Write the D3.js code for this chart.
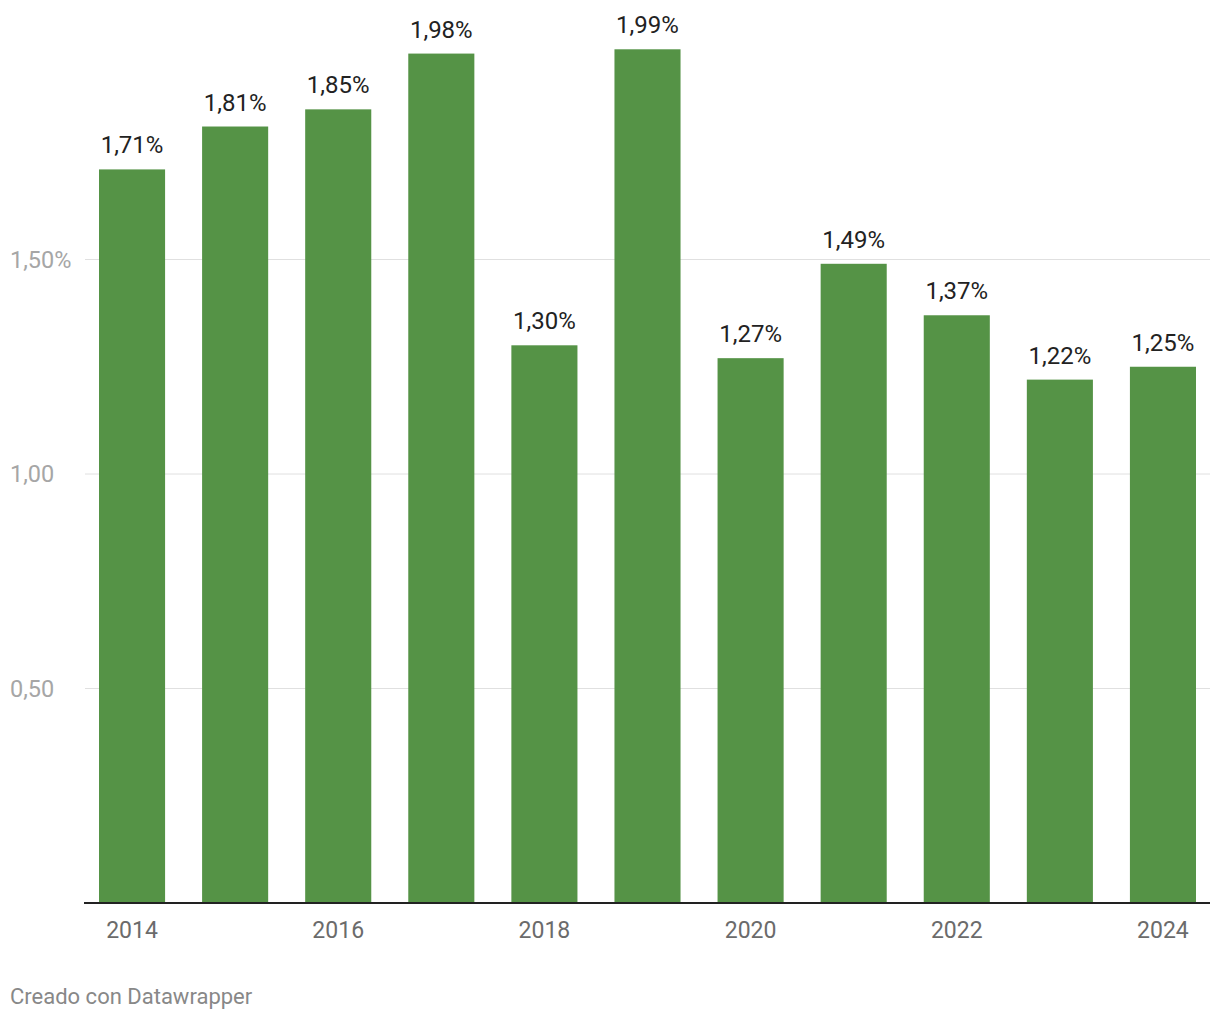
<!DOCTYPE html>
<html><head><meta charset="utf-8">
<script src="https://cdn.jsdelivr.net/npm/d3@7"></script>
<style>body{margin:0;background:#fff;font-family:Roboto,sans-serif}</style>
</head><body><svg id="c" width="1220" height="1020"></svg>
<script>
const years = ["2014","2015","2016","2017","2018","2019","2020","2021","2022","2023","2024"];
const values = [1.71,1.81,1.85,1.98,1.30,1.99,1.27,1.49,1.37,1.22,1.25];
const valueLabels = ["1,71%","1,81%","1,85%","1,98%","1,30%","1,99%","1,27%","1,49%","1,37%","1,22%","1,25%"];
const yTicks = [0.5,1.0,1.5];
const yTickLabels = ["0,50","1,00","1,50%"];
const xTickLabels = ["2014","2016","2018","2020","2022","2024"];

const svg = d3.select("#c");
const x = d3.scaleBand().domain(years).range([99,1196]).paddingInner(0.359).paddingOuter(0);
const y = d3.scaleLinear().domain([0,1]).range([903,474]);

// gridlines
svg.append("g").selectAll("line").data(yTicks).join("line")
  .attr("x1",85).attr("x2",1210).attr("y1",d=>y(d)).attr("y2",d=>y(d))
  .attr("stroke","#e0e0e0").attr("stroke-width",1);
svg.append("g").selectAll("text").data(yTicks).join("text")
  .attr("x",10).attr("y",d=>y(d)+8).attr("font-size",23.5).attr("fill","#a6a6a6")
  .text((d,i)=>yTickLabels[i]);

// bars
svg.append("g").selectAll("rect").data(values).join("rect")
  .attr("x",(d,i)=>x(years[i])).attr("width",x.bandwidth())
  .attr("y",d=>y(d)).attr("height",d=>y(0)-y(d)).attr("fill","#559346");

// value labels
svg.append("g").selectAll("text").data(values).join("text")
  .attr("x",(d,i)=>x(years[i])+x.bandwidth()/2).attr("y",d=>y(d)-16)
  .attr("text-anchor","middle").attr("font-size",24).attr("fill","#222")
  .text((d,i)=>valueLabels[i]);

// baseline
svg.append("line").attr("x1",84).attr("x2",1210).attr("y1",903).attr("y2",903)
  .attr("stroke","#222").attr("stroke-width",2);

// x labels
svg.append("g").selectAll("text").data(xTickLabels).join("text")
  .attr("x",d=>x(d)+x.bandwidth()/2).attr("y",938)
  .attr("text-anchor","middle").attr("font-size",23).attr("fill","#6b6b6b").text(d=>d);

svg.append("text").attr("x",10).attr("y",1004).attr("font-size",22).attr("fill","#888")
  .text("Creado con Datawrapper");
</script></body></html>
